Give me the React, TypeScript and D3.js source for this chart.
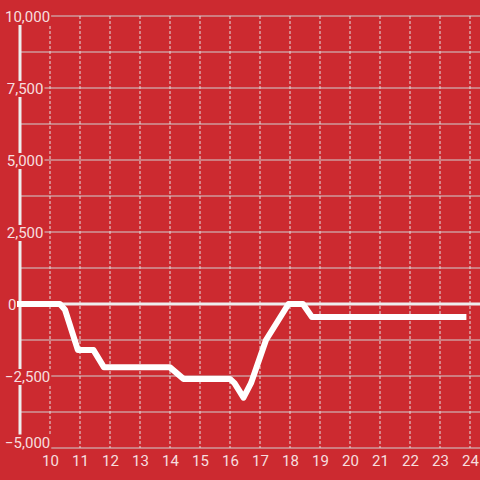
import React, { useEffect, useRef } from "react";
import * as d3 from "d3";

const hours = [9, 10.33, 10.5, 10.93, 11.45, 11.8, 14.0, 14.45, 16.0, 16.15, 16.45, 16.7, 17.2, 17.95, 18.43, 18.73, 23.78];
const values = [0, 0, -200, -1600, -1600, -2200, -2200, -2600, -2600, -2750, -3250, -2750, -1250, 0, 0, -450, -450];
const xTicks = [10, 11, 12, 13, 14, 15, 16, 17, 18, 19, 20, 21, 22, 23, 24];
const yTicks = [-5000, -2500, 0, 2500, 5000, 7500, 10000];
const yMinor = [-3750, -1250, 1250, 3750, 6250, 8750];

const BG = "#cc2a30";
const TXT = "rgba(255,255,255,0.86)";

export default function App() {
  const ref = useRef<SVGSVGElement>(null);
  useEffect(() => {
    const svg = d3.select(ref.current);
    svg.selectAll("*").remove();
    const W = 480, H = 480;
    const x = d3.scaleLinear().domain([10, 24]).range([50, 470]);
    const y = d3.scaleLinear().domain([-5000, 10000]).range([448, 16]);
    const fmt = d3.format(",");

    svg.append("rect").attr("width", W).attr("height", H).attr("fill", BG);

    // horizontal grid
    const g = svg.append("g");
    g.selectAll("line.h")
      .data([...yTicks.filter((v) => v !== 0), ...yMinor])
      .join("line")
      .attr("x1", 20).attr("x2", W)
      .attr("y1", (d) => y(d)).attr("y2", (d) => y(d))
      .attr("stroke", "#cfcfcf").attr("stroke-width", 1.2);

    // vertical dashed grid
    g.selectAll("line.v")
      .data(xTicks)
      .join("line")
      .attr("x1", (d) => x(d)).attr("x2", (d) => x(d))
      .attr("y1", y(10000)).attr("y2", y(-5000))
      .attr("stroke", "#e2e2e2").attr("stroke-width", 1)
      .attr("stroke-dasharray", "3,2");

    // zero line
    svg.append("line")
      .attr("x1", 20).attr("x2", W)
      .attr("y1", y(0)).attr("y2", y(0))
      .attr("stroke", "#eeeeee").attr("stroke-width", 3);

    // y axis line
    svg.append("line")
      .attr("x1", 20).attr("x2", 20)
      .attr("y1", y(10000)).attr("y2", y(-5000))
      .attr("stroke", "#eeeeee").attr("stroke-width", 3);

    // data line
    const pts = hours.map((h, i) => [h, values[i]] as [number, number]);
    const line = d3.line<[number, number]>().x((d) => x(d[0])).y((d) => y(d[1]));
    svg.append("path")
      .attr("d", line(pts))
      .attr("fill", "none")
      .attr("stroke", "#ffffff")
      .attr("stroke-width", 6)
      .attr("stroke-linejoin", "round")
      .attr("stroke-linecap", "square");

    // y labels with background
    const yl = svg.append("g");
    yTicks.forEach((v) => {
      const grp = yl.append("g");
      const rect = grp.append("rect").attr("fill", BG);
      const cy = Math.min(y(v) + 1, y(-5000) - 5.5);
      const t = grp.append("text")
        .text(fmt(v))
        .attr("y", cy)
        .attr("dy", "0.36em")
        .attr("font-family", "Roboto, sans-serif")
        .attr("font-size", 15)
        .attr("fill", TXT);
      if (v === 0) {
        t.attr("x", 16.5).attr("text-anchor", "end");
      } else {
        t.attr("x", 43.5).attr("text-anchor", "end");
        const bb0 = (t.node() as SVGTextElement).getBBox();
        if (bb0.x < 5) t.attr("x", 43.5 + (5 - bb0.x));
      }
      const bb = (t.node() as SVGTextElement).getBBox();
      if (v !== 0) {
        rect.attr("x", bb.x - 1).attr("y", cy - 8)
          .attr("width", bb.width + 2).attr("height", 16);
      }
    });

    // x labels
    svg.append("g").selectAll("text")
      .data(xTicks)
      .join("text")
      .text((d) => String(d))
      .attr("x", (d) => x(d) + 0.5)
      .attr("y", 460.5)
      .attr("dy", "0.36em")
      .attr("text-anchor", "middle")
      .attr("font-family", "Roboto, sans-serif")
      .attr("font-size", 15)
      .attr("fill", TXT);
  }, []);
  return (
    <svg
      ref={ref}
      width={480}
      height={480}
      style={{ position: "absolute", left: 0, top: 0, display: "block" }}
    />
  );
}
